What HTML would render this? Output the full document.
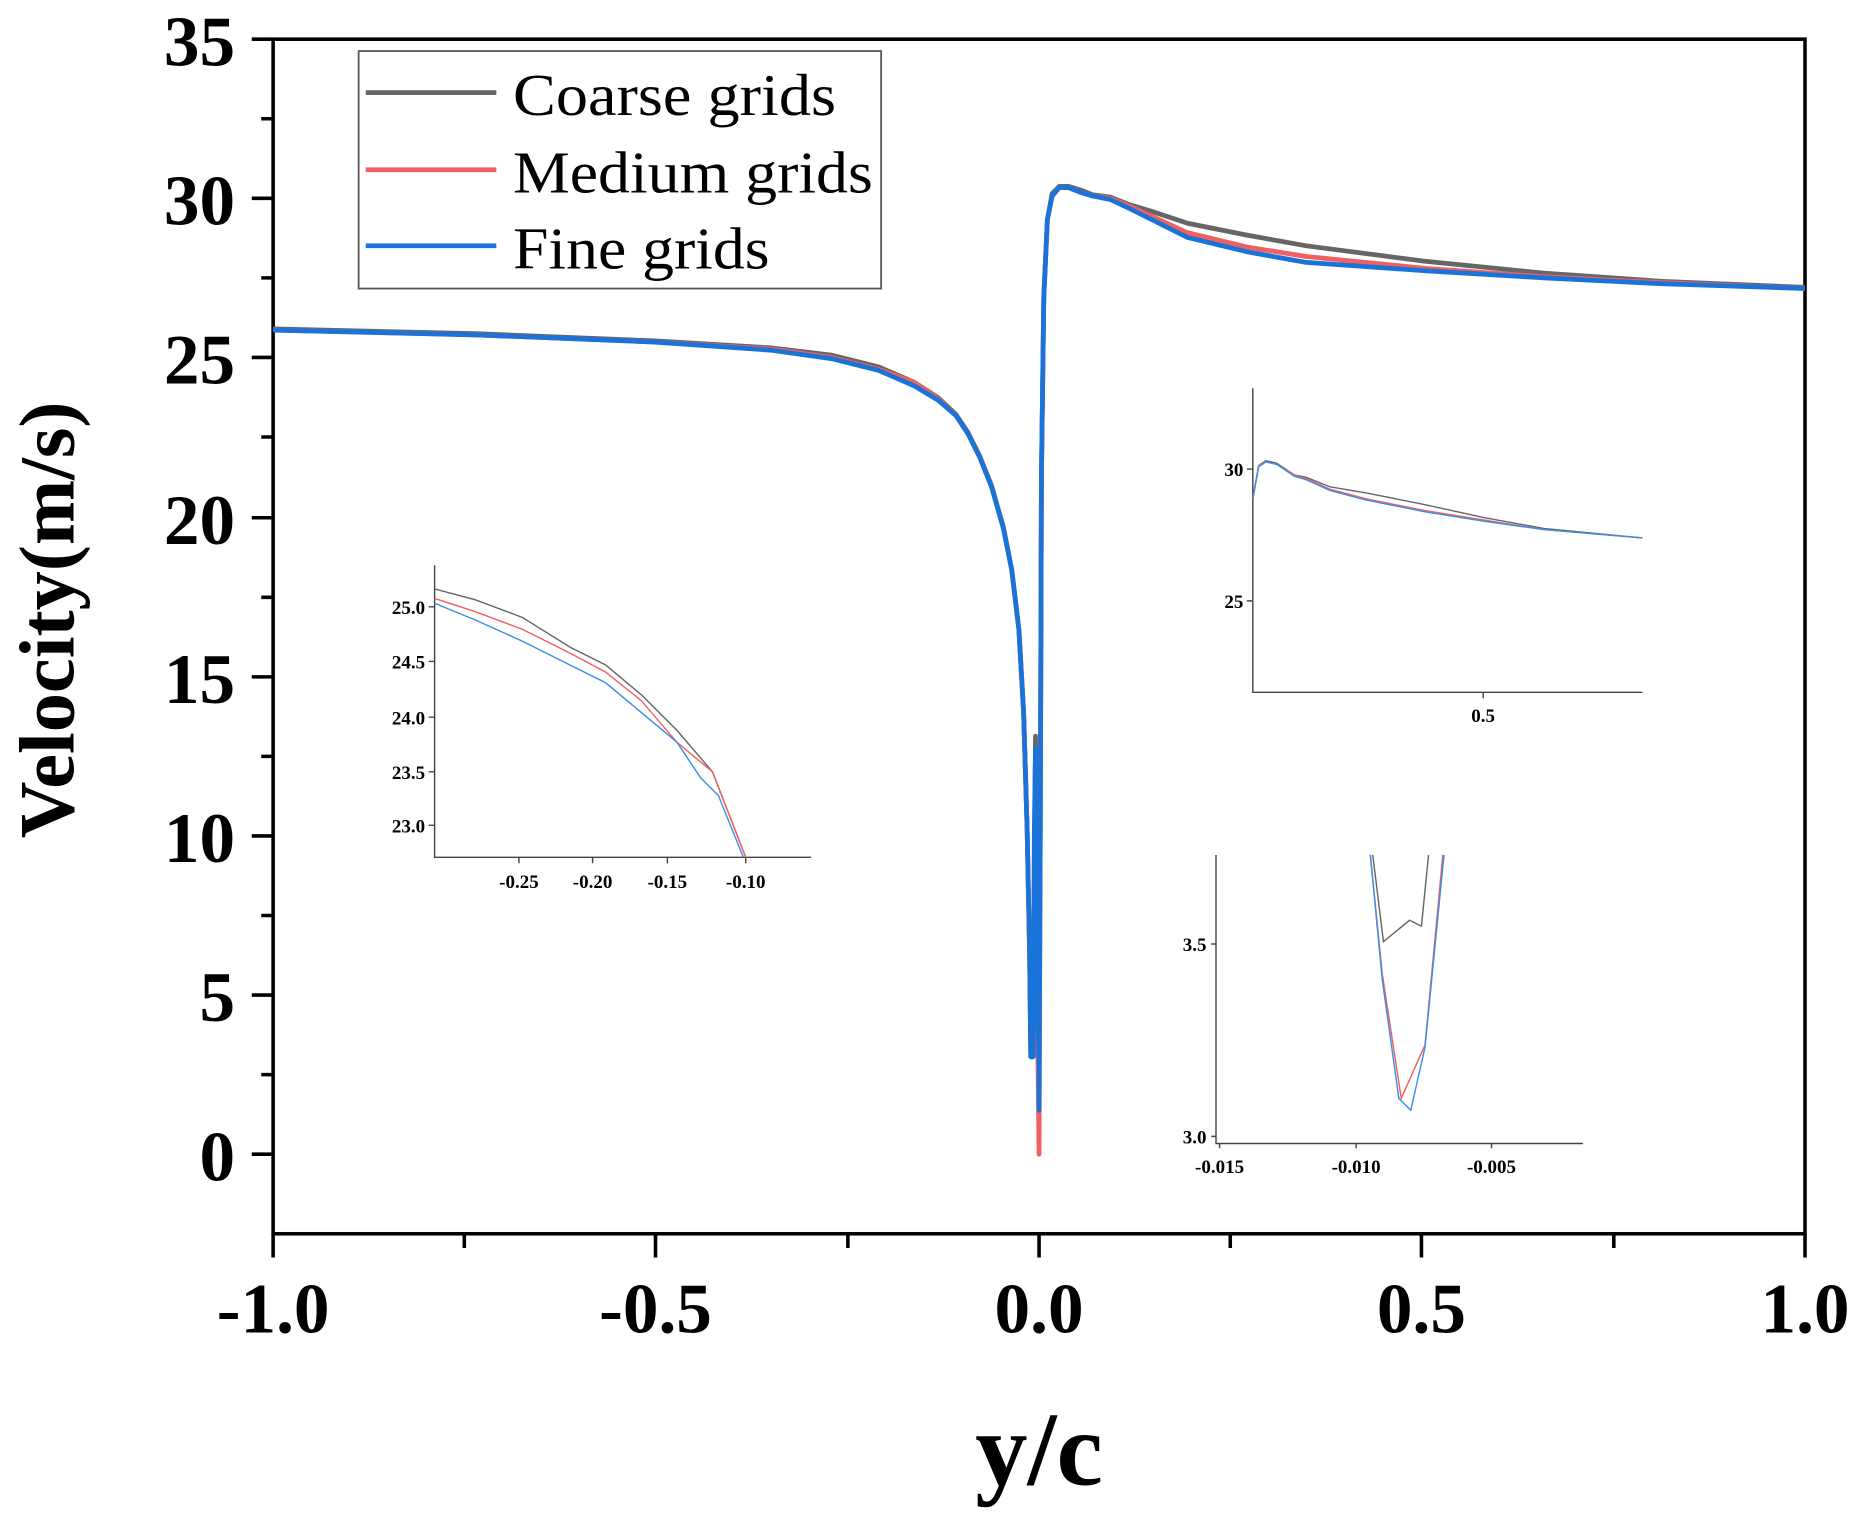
<!DOCTYPE html>
<html><head><style>html,body{margin:0;padding:0;background:#fff}svg{display:block}</style></head>
<body>
<svg width="1862" height="1514" viewBox="0 0 1568 1275" preserveAspectRatio="none" xmlns="http://www.w3.org/2000/svg" font-family="Liberation Serif, serif">
<rect width="1568" height="1275" fill="#fff"/>
<!-- axes -->
<g stroke="#000" stroke-width="3" fill="none">
<rect x="230" y="33" width="1290" height="1006"/>
<path d="M230,33h-18M230,167h-18M230,301h-18M230,436h-18M230,570h-18M230,704h-18M230,838h-18M230,972h-18
M230,100h-10M230,234h-10M230,368h-10M230,503h-10M230,637h-10M230,771h-10M230,905h-10
M230,1039v20M552,1039v20M875,1039v20M1197,1039v20M1520,1039v20
M391,1039v12M714,1039v12M1036,1039v12M1359,1039v12"/>
</g>
<g font-weight="bold" font-size="60" text-anchor="end">
<text x="198" y="55">35</text><text x="198" y="189">30</text><text x="198" y="323">25</text><text x="198" y="458">20</text><text x="198" y="592">15</text><text x="198" y="726">10</text><text x="198" y="860">5</text><text x="198" y="994">0</text>
</g>
<g font-weight="bold" font-size="60" text-anchor="middle">
<text x="230" y="1122">-1.0</text><text x="552" y="1122">-0.5</text><text x="875" y="1122">0.0</text><text x="1197" y="1122">0.5</text><text x="1520" y="1122">1.0</text>
</g>
<text x="875" y="1250" font-weight="bold" font-size="88" text-anchor="middle">y/c</text>
<text transform="translate(62,522) rotate(-90)" font-weight="bold" font-size="66" text-anchor="middle">Velocity(m/s)</text>
<!-- main curves -->
<g fill="none" stroke-linejoin="round">
<polyline stroke="#666" stroke-width="4" points="230,277 400,281 550,287 650,293 700,299 740,309 770,322 790,335 805,349 815,364 825,384 835,409 845,444 852,480 858,530 862,600 865,700 867,800 868,880 870,880 872,620 874,800 875,850 876,700 877,400 879,250 882,185 886,163 892,157 900,157 910,160 920,164 935,166 950,172 970,178 1000,188 1050,198 1100,207 1200,220 1300,230 1400,237 1520,242"/>
<polyline stroke="#f06060" stroke-width="4" points="230,278 400,282 550,288 650,294 700,301 740,311 770,322 790,336 805,350 815,365 825,385 835,410 845,445 852,480 858,530 862,600 865,700 867,800 868,888 870,888 872,630 873,800 875,972 876,700 877,400 879,250 882,185 886,165 892,158 900,158 910,162 920,165 935,167 950,173 970,182 1000,196 1050,208 1100,216 1200,226 1300,233 1400,238 1520,243"/>
<polyline stroke="#1a73d9" stroke-width="4" points="230,278 400,282 550,288 650,295 700,302 740,312 770,325 790,337 805,350 815,365 825,385 835,410 845,445 852,480 858,530 862,600 865,700 867,800 868,890 870,890 871,700 872,630 873,800 875,900 875,935 876,700 877,400 879,250 882,185 886,165 892,158 900,158 910,162 920,165 935,168 950,175 970,185 1000,200 1050,212 1100,221 1200,228 1300,234 1400,239 1520,243"/>
</g>
<!-- legend -->
<rect x="302" y="43" width="440" height="200" fill="#fff" stroke="#555" stroke-width="1.5"/>
<line x1="308" y1="78" x2="418" y2="78" stroke="#666" stroke-width="4"/>
<line x1="308" y1="143" x2="418" y2="143" stroke="#f06060" stroke-width="4"/>
<line x1="308" y1="207" x2="418" y2="207" stroke="#1a73d9" stroke-width="4"/>
<g font-size="50"><text x="432" y="97" textLength="272" lengthAdjust="spacingAndGlyphs">Coarse grids</text><text x="432" y="162" textLength="303" lengthAdjust="spacingAndGlyphs">Medium grids</text><text x="432" y="226" textLength="216" lengthAdjust="spacingAndGlyphs">Fine grids</text></g>
<!-- inset 1 -->
<g stroke="#444" stroke-width="1.2" fill="none"><path d="M366,476V722H683M366,511h-5M366,557h-5M366,604h-5M366,650h-5M366,695h-5M437,722v5M499,722v5M562,722v5M628,722v5"/></g>
<g font-size="16" font-weight="bold" text-anchor="end"><text x="358" y="517">25.0</text><text x="358" y="563">24.5</text><text x="358" y="610">24.0</text><text x="358" y="656">23.5</text><text x="358" y="701">23.0</text></g>
<g font-size="16" font-weight="bold" text-anchor="middle"><text x="437" y="748">-0.25</text><text x="499" y="748">-0.20</text><text x="562" y="748">-0.15</text><text x="628" y="748">-0.10</text></g>
<g fill="none" stroke-width="1.2">
<polyline stroke="#666" points="366,496 400,505 440,520 480,545 510,560 540,585 570,615 600,650 628,722"/>
<polyline stroke="#f06060" points="366,504 400,515 440,530 480,550 510,566 540,590 570,625 600,650 628,722"/>
<polyline stroke="#3a8fe8" points="366,508 400,522 440,540 480,560 510,575 540,600 570,625 590,655 605,670 626,722"/>
</g>
<!-- inset 2 -->
<g stroke="#444" stroke-width="1.2" fill="none"><path d="M1055,327V583H1383M1055,395h-5M1055,506h-5M1249,583v5"/></g>
<g font-size="16" font-weight="bold"><text x="1047" y="401" text-anchor="end">30</text><text x="1047" y="512" text-anchor="end">25</text><text x="1249" y="608" text-anchor="middle">0.5</text></g>
<g fill="none" stroke-width="1.2">
<polyline stroke="#666" points="1055,420 1060,392 1066,388 1075,390 1090,400 1100,402 1120,410 1150,415 1200,425 1250,436 1300,445 1383,453"/>
<polyline stroke="#f06060" points="1055,420 1060,392 1066,389 1075,391 1090,400 1100,403 1120,412 1150,420 1200,430 1250,438 1300,446 1383,453"/>
<polyline stroke="#3a8fe8" points="1055,420 1060,393 1066,389 1075,391 1090,401 1100,404 1120,413 1150,421 1200,431 1250,439 1300,446 1383,453"/>
</g>
<!-- inset 3 -->
<g stroke="#444" stroke-width="1.2" fill="none"><path d="M1024,720V963H1333M1024,795h-4M1024,957h-4M1027,963v4M1142,963v4M1256,963v4"/></g>
<g font-size="16" font-weight="bold"><text x="1016" y="801" text-anchor="end">3.5</text><text x="1016" y="963" text-anchor="end">3.0</text><text x="1027" y="988" text-anchor="middle">-0.015</text><text x="1142" y="988" text-anchor="middle">-0.010</text><text x="1256" y="988" text-anchor="middle">-0.005</text></g>
<g fill="none" stroke-width="1.2">
<polyline stroke="#666" points="1156,720 1165,793 1187,775 1197,780 1203,720"/>
<polyline stroke="#f06060" points="1154,720 1164,820 1180,925 1200,880 1215,720"/>
<polyline stroke="#3a8fe8" points="1154,720 1164,825 1178,925 1188,935 1200,882 1216,720"/>
</g>
</svg>
</body></html>
